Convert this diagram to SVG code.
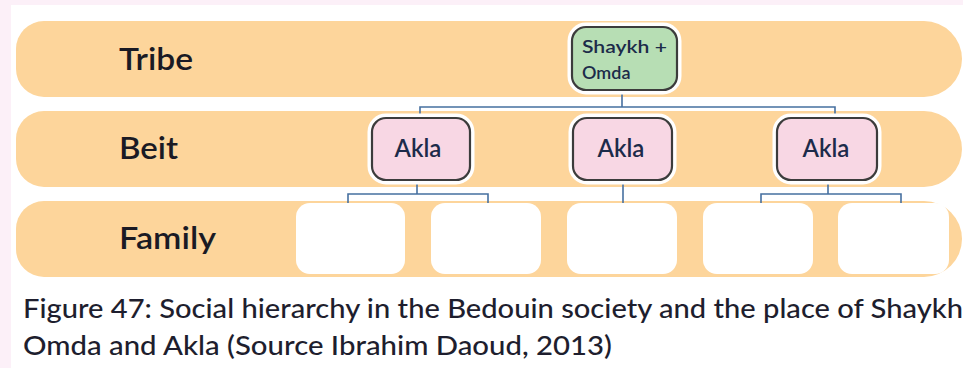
<svg xmlns="http://www.w3.org/2000/svg" width="963" height="368" viewBox="0 0 963 368">
<defs>
<style>
.band{fill:#fdd59b}
.lbl{font-family:Lato,"Liberation Sans",sans-serif;font-size:31px;font-weight:600;fill:#1a1a24}
.halo{fill:none;stroke:#ffffff;stroke-width:9}
.box{stroke:#3c3c3c;stroke-width:2.2}
.ntext{font-family:Lato,"Liberation Sans",sans-serif;font-weight:600;fill:#1c2b4a}
.fam{fill:#ffffff}
.conn{fill:none;stroke:#4670a0;stroke-width:1.6}
.cap{font-family:Lato,"Liberation Sans",sans-serif;font-size:26px;font-weight:500;fill:#1e1e2e}
</style>
</defs>
<rect x="0" y="0" width="963" height="368" fill="#fcf0f8"/>
<rect x="11" y="5" width="952" height="363" fill="#ffffff"/>

<g id="band-tribe">
<path class="band" d="M44,21 H924 A38,38 0 0 1 924,97 H44 A28,28 0 0 1 16,69 V49 A28,28 0 0 1 44,21 Z"/>
<text class="lbl" x="119" y="70" textLength="74" lengthAdjust="spacingAndGlyphs">Tribe</text>
</g>
<g id="band-beit">
<path class="band" d="M44,111 H924 A38,38 0 0 1 924,187 H44 A28,28 0 0 1 16,159 V139 A28,28 0 0 1 44,111 Z"/>
<text class="lbl" x="119" y="159" textLength="59" lengthAdjust="spacingAndGlyphs">Beit</text>
</g>
<g id="band-family">
<path class="band" d="M44,201 H924 A38,38 0 0 1 924,277 H44 A28,28 0 0 1 16,249 V229 A28,28 0 0 1 44,201 Z"/>
<text class="lbl" x="119" y="249" textLength="97" lengthAdjust="spacingAndGlyphs">Family</text>
</g>

<g id="connectors">
<path class="conn" d="M622,91 V107 M420,117 V107 H835 V117"/>
<path class="conn" d="M417,181 V194 M348,203 V194 H488 V203"/>
<path class="conn" d="M623,181 V203"/>
<path class="conn" d="M828,181 V194 M761,203 V194 H901 V203"/>
</g>

<g id="shaykh">
<rect class="halo" x="572" y="27" width="105" height="63" rx="14"/>
<rect class="box" x="572" y="27" width="105" height="63" rx="14" fill="#b7deb4"/>
<text class="ntext" x="582" y="53" font-size="18" textLength="85" lengthAdjust="spacingAndGlyphs">Shaykh +</text>
<text class="ntext" x="582" y="79" font-size="18">Omda</text>
</g>

<g id="akla1">
<rect class="halo" x="372" y="118" width="98" height="62" rx="14"/>
<rect class="box" x="372" y="118" width="98" height="62" rx="14" fill="#f8d7e4"/>
<text class="ntext" x="418" y="157" font-size="24" text-anchor="middle">Akla</text>
</g>
<g id="akla2">
<rect class="halo" x="573" y="118" width="99" height="62" rx="14"/>
<rect class="box" x="573" y="118" width="99" height="62" rx="14" fill="#f8d7e4"/>
<text class="ntext" x="621" y="157" font-size="24" text-anchor="middle">Akla</text>
</g>
<g id="akla3">
<rect class="halo" x="777" y="118" width="100" height="62" rx="14"/>
<rect class="box" x="777" y="118" width="100" height="62" rx="14" fill="#f8d7e4"/>
<text class="ntext" x="826" y="157" font-size="24" text-anchor="middle">Akla</text>
</g>

<g id="family1"><rect class="fam" x="296" y="203" width="109" height="71" rx="14"/></g>
<g id="family2"><rect class="fam" x="431" y="203" width="110" height="71" rx="14"/></g>
<g id="family3"><rect class="fam" x="567" y="203" width="110" height="71" rx="14"/></g>
<g id="family4"><rect class="fam" x="703" y="203" width="110" height="71" rx="14"/></g>
<g id="family5"><rect class="fam" x="838" y="203" width="111" height="71" rx="14"/></g>

<g id="caption">
<text class="cap" x="23" y="318" textLength="940" lengthAdjust="spacingAndGlyphs">Figure 47: Social hierarchy in the Bedouin society and the place of Shaykh</text>
<text class="cap" x="23" y="355" textLength="589" lengthAdjust="spacingAndGlyphs">Omda and Akla (Source Ibrahim Daoud, 2013)</text>
</g>
</svg>
